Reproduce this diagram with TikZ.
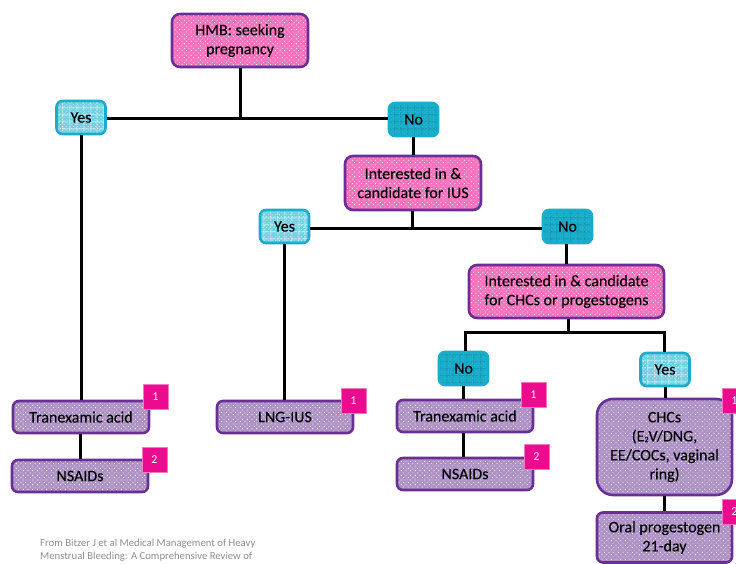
\documentclass[tikz,border=0pt]{standalone}
\usepackage{fontspec}
\setmainfont{Carlito}[FakeBold=0.1]
\newfontfamily\plainfont{Carlito}
\usetikzlibrary{patterns.meta,calc}
\definecolor{pinkfill}{HTML}{F272BE}
\definecolor{lilacfill}{HTML}{AE92C6}
\definecolor{boxpurple}{HTML}{6A2F96}
\definecolor{cyanedge}{HTML}{18AECB}
\definecolor{yesfill}{HTML}{6FD0E2}
\definecolor{nofill}{HTML}{18AECB}
\definecolor{badgepink}{HTML}{EC0A8F}
\definecolor{notegray}{HTML}{8E8E8E}
\newcommand{\labelfont}{\fontsize{16}{19}\selectfont}
\tikzset{
  dotbox/.style={draw=boxpurple,line width=2.6pt,align=center,inner sep=0pt,font=\labelfont,text=black,
    preaction={fill=#1},pattern={Dots[angle=45,distance=3.3pt,radius=.62pt]},pattern color=white},
  pinkbox/.style={dotbox=pinkfill,rounded corners=8pt},
  lilacbox/.style={dotbox=lilacfill,rounded corners=6pt},
  bigbox/.style={dotbox=lilacfill,rounded corners=16pt},
  yesbox/.style={draw=cyanedge,line width=2.6pt,rounded corners=6pt,inner sep=0pt,font=\labelfont,
    minimum width=49pt,minimum height=33pt,preaction={fill=yesfill},
    preaction={pattern={Lines[angle=0,distance=6.5pt,line width=.5pt]},pattern color=white},
    preaction={pattern={Lines[angle=90,distance=6.5pt,line width=.5pt]},pattern color=white},
    pattern={Dots[angle=45,distance=2.6pt,radius=.45pt]},pattern color=white},
  nobox/.style={draw=cyanedge,line width=2.6pt,rounded corners=6pt,inner sep=0pt,font=\labelfont,
    minimum width=49pt,minimum height=33pt,preaction={fill=nofill},
    preaction={pattern={Lines[angle=0,distance=6.5pt,line width=.5pt]},pattern color=cyanedge!75!black},
    preaction={pattern={Lines[angle=90,distance=6.5pt,line width=.5pt]},pattern color=cyanedge!75!black},
    pattern={Dots[angle=45,distance=2.6pt,radius=.45pt]},pattern color=cyanedge!80!white},
  badge/.style={fill=badgepink,draw=badgepink!55!white,line width=.5pt,minimum size=25pt,inner sep=0pt,text=white!90!pink,font=\plainfont\fontsize{12}{14}\selectfont},
  link/.style={line width=3pt,draw=black},
  note/.style={anchor=west,inner sep=0pt,text=notegray,font=\plainfont\fontsize{10.7}{12}\selectfont}
}
\begin{document}
\begin{tikzpicture}[x=1pt,y=-1pt]
\clip (0,0) rectangle (736,564);
\coordinate (j1) at (240,118.3);
\coordinate (j2) at (412.5,228.3);
\coordinate (j3) at (568,332);
\node[pinkbox,minimum width=136pt,minimum height=53pt] (hmb) at (240,40.5) {HMB: seeking\\pregnancy};
\node[yesbox] (yes1) at (81,117.5) {Yes};
\node[nobox] (no1) at (413.5,119.5) {No};
\node[pinkbox,minimum width=136pt,minimum height=54pt] (ius) at (413,183) {Interested in \&\\candidate for IUS};
\node[yesbox] (yes2) at (284.5,226.5) {Yes};
\node[nobox] (no2) at (567.5,226.5) {No};
\node[pinkbox,minimum width=195pt,minimum height=53pt] (chc) at (566.5,291.5) {Interested in \& candidate\\for CHCs or progestogens};
\node[nobox] (no3) at (463.5,368.5) {No};
\node[yesbox] (yes3) at (665,369.5) {Yes};
\node[lilacbox,minimum width=136pt,minimum height=32pt] (tran1) at (81,417) {Tranexamic acid};
\node[lilacbox,minimum width=136pt,minimum height=32pt] (nsa1) at (80,476) {NSAIDs};
\node[lilacbox,minimum width=136pt,minimum height=32pt] (lng) at (285,417) {LNG-IUS};
\node[lilacbox,minimum width=136pt,minimum height=32pt] (tran2) at (465,416) {Tranexamic acid};
\node[lilacbox,minimum width=136pt,minimum height=32pt] (nsa2) at (465,474) {NSAIDs};
\node[bigbox,minimum width=135pt,minimum height=96pt] (chcs) at (664.5,447) {CHCs\\(E\raisebox{-.1ex}{\fontsize{8}{8}\selectfont 2}V/DNG,\\EE/COCs, vaginal\\ring)};
\node[lilacbox,minimum width=135pt,minimum height=50pt] (oral) at (664.5,537.5) {Oral progestogen\\21-day};
\node[badge] (b1) at (155.5,396.5) {1};
\node[badge] (b2) at (154.5,459.5) {2};
\node[badge] (b3) at (353.5,400.5) {1};
\node[badge] (b4) at (533.5,394.5) {1};
\node[badge] (b5) at (536.5,456.5) {2};
\node[badge] (b6) at (734.5,400.5) {1};
\node[badge] (b7) at (734.5,512) {2};
\node[note] (src1) at (40,544) {From Bitzer J et al Medical Management of Heavy};
\node[note] (src2) at (40,556.5) {Menstrual Bleeding: A Comprehensive Review of};
\draw[link] (hmb.south) -- (j1);
\draw[link] (yes1.east |- j1) -- (no1.west |- j1);
\draw[link] (yes1.south) -- (tran1.north);
\draw[link] (tran1.south -| nsa1.north) -- (nsa1.north);
\draw[link] (no1.south) -- (ius.north -| no1.south);
\draw[link] (ius.south -| j2) -- (j2);
\draw[link] (yes2.east |- j2) -- (no2.west |- j2);
\draw[link] (yes2.south) -- (lng.north -| yes2.south);
\draw[link] (no2.south -| 566,0) -- (chc.north -| 566,0);
\draw[link] (chc.south -| j3) -- (j3);
\draw[link] (no3.north -| 465,0) |- (j3);
\draw[link] (yes3.north -| 664,0) |- (j3);
\draw[link] (no3.south) -- (tran2.north -| no3.south);
\draw[link] (tran2.south -| no3.south) -- (nsa2.north -| no3.south);
\draw[link] (yes3.south) -- (chcs.north -| yes3.south);
\draw[link] (chcs.south) -- (oral.north);
\end{tikzpicture}
\end{document}
